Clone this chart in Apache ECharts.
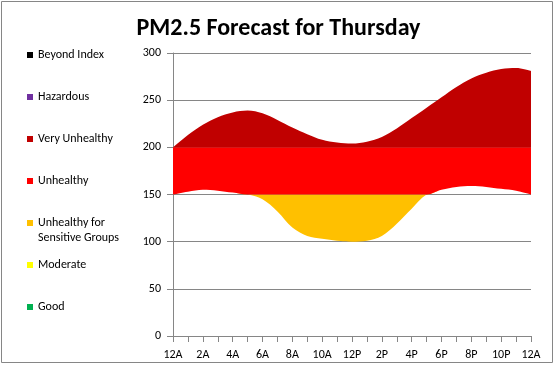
<!DOCTYPE html>
<html><head><meta charset="utf-8">
<script src="https://cdn.jsdelivr.net/npm/echarts@6/dist/echarts.min.js"></script>
<style>html,body{margin:0;padding:0;background:#fff}#c{width:557px;height:370px}</style>
</head><body><div id="c"></div>
<script>
const hours = ['12A','1A','2A','3A','4A','5A','6A','7A','8A','9A','10A','11A','12P','1P','2P','3P','4P','5P','6P','7P','8P','9P','10P','11P','12A'];
const upperLine = [200,213,224,232,237,239,236,229,221,214,208,205,204,206,211,220,231,242,253,264,273,279,283,284,281];
const lowerLine = [150,153,155,154,152,150,145,132,115,106,103,101,100,101,106,119,135,150,155,158,159,158,156,154,150];
const usgTop = 150;
const unhealthyTop = 200;
const yTicks = [0,50,100,150,200,250,300];
const categoryNames = ['Beyond Index','Hazardous','Very Unhealthy','Unhealthy','Unhealthy for\nSensitive Groups','Moderate','Good'];
const categoryColors = ['#000000','#7030A0','#C00000','#FF0000','#FFC000','#FFFF00','#00B050'];

const FONT = 'Carlito, Calibri, "Liberation Sans", sans-serif';
const baseVals = lowerLine.slice();
const orangeVals = lowerLine.map(v => Math.max(0, usgTop - v));
const redVals = lowerLine.map(v => unhealthyTop - Math.max(v, usgTop));
const darkVals = upperLine.map(v => v - unhealthyTop);

const SMOOTH = 0.35;
function areaSeries(name, data, color) {
  return {name, type:'line', stack:'aq', data, smooth:SMOOTH, symbol:'none',
    lineStyle:{width:0, opacity:0}, areaStyle:{color, opacity:1}, itemStyle:{color},
    emphasis:{disabled:true}, silent:true, z:2};
}
const series = [
  {name:'_base', type:'line', stack:'aq', data:baseVals, smooth:SMOOTH, symbol:'none', lineStyle:{width:0,opacity:0}, silent:true},
  areaSeries(categoryNames[4], orangeVals, categoryColors[4]),
  areaSeries(categoryNames[3], redVals, categoryColors[3]),
  areaSeries(categoryNames[2], darkVals, categoryColors[2])
];
[0,1,5,6].forEach(i => series.push({name:categoryNames[i], type:'line', data:[], itemStyle:{color:categoryColors[i]}, symbol:'none'}));

const legendCenters = [55,97,139,181,223,265,307];
const legends = categoryNames.map((n,i) => {
  const multi = n.indexOf('\n') >= 0;
  return {
    data:[n], orient:'vertical', left:27, top: multi ? legendCenters[i]-22.5 : legendCenters[i]-7.5,
    padding:0, icon:'rect', itemWidth:6, itemHeight:6, selectedMode:false,
    formatter: multi ? (nm => ' \n' + nm) : undefined,
    textStyle:{fontFamily:FONT, fontSize:12, color:'#000', lineHeight:15}
  };
});

const chart = echarts.init(document.getElementById('c'), null, {renderer:'canvas'});
chart.setOption({
  animation:false,
  backgroundColor:'#fff',
  title:{text:'PM2.5 Forecast for Thursday', left:'center', top:12,
    textStyle:{fontFamily:FONT, fontSize:24, fontWeight:'bold', color:'#000'}},
  legend: legends,
  grid:{left:173, right:26, top:53, bottom:34, containLabel:false},
  xAxis:{type:'category', data:hours, boundaryGap:false,
    axisLine:{lineStyle:{color:'#868686', width:1}},
    axisTick:{interval:0, length:6, lineStyle:{color:'#868686'}},
    axisLabel:{interval:1, margin:13, fontFamily:FONT, fontSize:12, color:'#000'},
    splitLine:{show:false}},
  yAxis:{type:'value', min:yTicks[0], max:yTicks[yTicks.length-1], interval:yTicks[1]-yTicks[0],
    axisLine:{show:true, lineStyle:{color:'#868686', width:1}},
    axisTick:{show:true, length:6, lineStyle:{color:'#868686'}},
    axisLabel:{margin:12, fontFamily:FONT, fontSize:12, color:'#000'},
    splitLine:{show:true, lineStyle:{color:'#868686', width:1}}},
  graphic:[{type:'rect', shape:{x:1.5, y:1.5, width:551, height:361}, style:{fill:null, stroke:'#868686', lineWidth:1}, silent:true, z:100}],
  series
});
</script></body></html>
